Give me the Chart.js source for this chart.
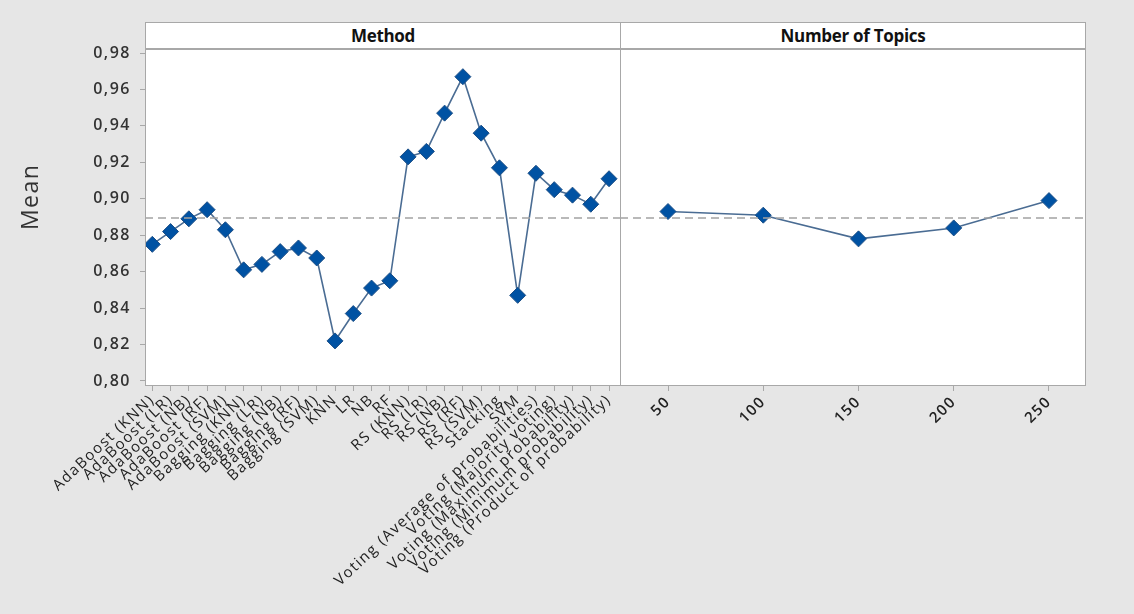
<!DOCTYPE html>
<html>
<head>
<meta charset="utf-8">
<script src="https://cdn.jsdelivr.net/npm/chart.js@4"></script>
<style>
  body { margin: 0; background: #e6e6e6; }
  #wrap { position: relative; width: 1134px; height: 614px; background: #e6e6e6; overflow: hidden; }
  #wrap canvas { position: absolute; top: 0; }
  .strip {
    position: absolute; top: 22px; height: 27px; background: #fff;
    border: 1px solid #a8a8a8; box-sizing: border-box;
    font: bold 17px "Open Sans", sans-serif; color: #111;
    text-align: center; line-height: 25px; letter-spacing: -0.3px;
  }
</style>
</head>
<body>
<div id="wrap">
  <div class="strip" style="left:145px;width:476px;">Method</div>
  <div class="strip" style="left:620px;width:466px;">Number of Topics</div>
  <div id="leftBox" style="position:absolute;left:0;top:0;width:640px;height:614px;"><canvas id="leftChart"></canvas></div>
  <div id="rightBox" style="position:absolute;left:560px;top:0;width:574px;height:614px;"><canvas id="rightChart"></canvas></div>
</div>
<script>
// main effect of Method
let methods = [
  'AdaBoost (KNN)', 'AdaBoost (LR)', 'AdaBoost (NB)', 'AdaBoost (RF)', 'AdaBoost (SVM)',
  'Bagging (KNN)', 'Bagging (LR)', 'Bagging (NB)', 'Bagging (RF)', 'Bagging (SVM)',
  'KNN', 'LR', 'NB', 'RF',
  'RS (KNN)', 'RS (LR)', 'RS (NB)', 'RS (RF)', 'RS (SVM)',
  'Stacking', 'SVM',
  'Voting (Average of probabilities)', 'Voting (Majority voting)',
  'Voting (Maximum probability)', 'Voting (Minimum probability)',
  'Voting (Product of probability)'
];
let methodMeans = [
  0.875, 0.882, 0.889, 0.894, 0.883,
  0.861, 0.864, 0.871, 0.873, 0.8675,
  0.822, 0.837, 0.851, 0.855,
  0.923, 0.926, 0.947, 0.967, 0.936,
  0.917, 0.847,
  0.914, 0.905, 0.902, 0.897, 0.911
];

// main effect of Number of Topics
let topics = [50, 100, 150, 200, 250];
let topicMeans = [0.893, 0.891, 0.878, 0.884, 0.899];

let grandMean = 0.8895;
let yTicks = [0.80, 0.82, 0.84, 0.86, 0.88, 0.90, 0.92, 0.94, 0.96, 0.98];
let yTitle = 'Mean';

let yMin = 0.7978, yMax = 0.9822;
let lineColor = '#4a6c93';
let dotColor = '#0052a3';
let frameColor = '#a8a8a8';
let tickFont = { family: 'Open Sans', size: 15 };

// white plot area, frame, and the wide letter spacing of the original
let framePlugin = {
  id: 'frame',
  beforeUpdate(chart) { chart.ctx.letterSpacing = '1.5px'; },
  beforeDraw(chart) {
    let a = chart.chartArea, ctx = chart.ctx;
    ctx.letterSpacing = '1.5px';
    ctx.save();
    ctx.fillStyle = '#fff';
    ctx.fillRect(a.left, a.top, a.right - a.left, a.bottom - a.top);
    ctx.restore();
  },
  afterDraw(chart) {
    let a = chart.chartArea, ctx = chart.ctx;
    ctx.save();
    ctx.strokeStyle = frameColor;
    ctx.lineWidth = 1;
    ctx.strokeRect(Math.round(a.left) + 0.5, Math.round(a.top) + 0.5,
      Math.round(a.right - a.left), Math.round(a.bottom - a.top));
    ctx.restore();
  }
};

// y axis title sits a bit above the middle in the original
let yTitlePlugin = {
  id: 'yTitle',
  afterDraw(chart) {
    let a = chart.chartArea, ctx = chart.ctx;
    ctx.save();
    ctx.translate(31, a.top + (a.bottom - a.top) * 0.44);
    ctx.rotate(-Math.PI / 2);
    ctx.font = '23px "Open Sans"';
    ctx.fillStyle = '#333';
    ctx.textAlign = 'center';
    ctx.textBaseline = 'middle';
    ctx.fillText(yTitle, 0, 0);
    ctx.restore();
  }
};

function effectSet(points) {
  return {
    data: points,
    borderColor: lineColor,
    borderWidth: 1.6,
    pointStyle: 'rectRot',
    pointRadius: 8,
    pointBackgroundColor: dotColor,
    pointBorderColor: '#1d4f86',
    pointBorderWidth: 1,
    tension: 0
  };
}

function meanSet(x0, x1) {
  return {
    data: [{ x: x0, y: grandMean }, { x: x1, y: grandMean }],
    borderColor: '#a3a3a3',
    borderWidth: 1.5,
    borderDash: [8, 5],
    pointRadius: 0
  };
}

let leftMinX = -0.4, leftMaxX = 25.6;
new Chart(document.getElementById('leftChart'), {
  type: 'line',
  data: {
    datasets: [
      meanSet(leftMinX, leftMaxX),
      effectSet(methodMeans.map((v, i) => ({ x: i, y: v })))
    ]
  },
  options: {
    responsive: true,
    maintainAspectRatio: false,
    animation: false,
    layout: { padding: { top: 49, right: 20, left: 0, bottom: 0 } },
    plugins: { legend: { display: false }, tooltip: { enabled: false } },
    scales: {
      x: {
        type: 'linear',
        min: leftMinX,
        max: leftMaxX,
        afterBuildTicks: s => { s.ticks = methods.map((m, i) => ({ value: i })); },
        afterFit: s => { s.height = 229; },
        ticks: {
          autoSkip: false,
          minRotation: 43,
          maxRotation: 43,
          padding: 0,
          color: '#222',
          font: tickFont,
          callback: v => methods[v]
        },
        grid: { drawOnChartArea: false, tickLength: 6, color: frameColor },
        border: { color: frameColor }
      },
      y: {
        min: yMin,
        max: yMax,
        afterBuildTicks: s => { s.ticks = yTicks.map(v => ({ value: v })); },
        afterFit: s => { s.width = 145; },
        ticks: {
          color: '#333',
          padding: 9,
          font: { family: 'Open Sans', size: 16, weight: '600' },
          callback: v => v.toFixed(2).replace('.', ',')
        },
        grid: { drawOnChartArea: false, tickLength: 5, color: frameColor },
        border: { color: frameColor }
      }
    }
  },
  plugins: [framePlugin, yTitlePlugin]
});

let rightMinX = 24.8, rightMaxX = 268.9;
new Chart(document.getElementById('rightChart'), {
  type: 'line',
  data: {
    datasets: [
      meanSet(rightMinX, rightMaxX),
      effectSet(topics.map((t, i) => ({ x: t, y: topicMeans[i] })))
    ]
  },
  options: {
    responsive: true,
    maintainAspectRatio: false,
    animation: false,
    layout: { padding: { top: 49, right: 49, left: 60, bottom: 0 } },
    plugins: { legend: { display: false }, tooltip: { enabled: false } },
    scales: {
      x: {
        type: 'linear',
        min: rightMinX,
        max: rightMaxX,
        afterBuildTicks: s => { s.ticks = topics.map(t => ({ value: t })); },
        afterFit: s => { s.height = 229; },
        ticks: {
          autoSkip: false,
          minRotation: 45,
          maxRotation: 45,
          padding: 2,
          color: '#222',
          font: { family: 'Open Sans', size: 15, weight: '600' },
          callback: v => String(v)
        },
        grid: { drawOnChartArea: false, tickLength: 6, color: frameColor },
        border: { color: frameColor }
      },
      y: {
        display: false,
        min: yMin,
        max: yMax
      }
    }
  },
  plugins: [framePlugin]
});
</script>
</body>
</html>
